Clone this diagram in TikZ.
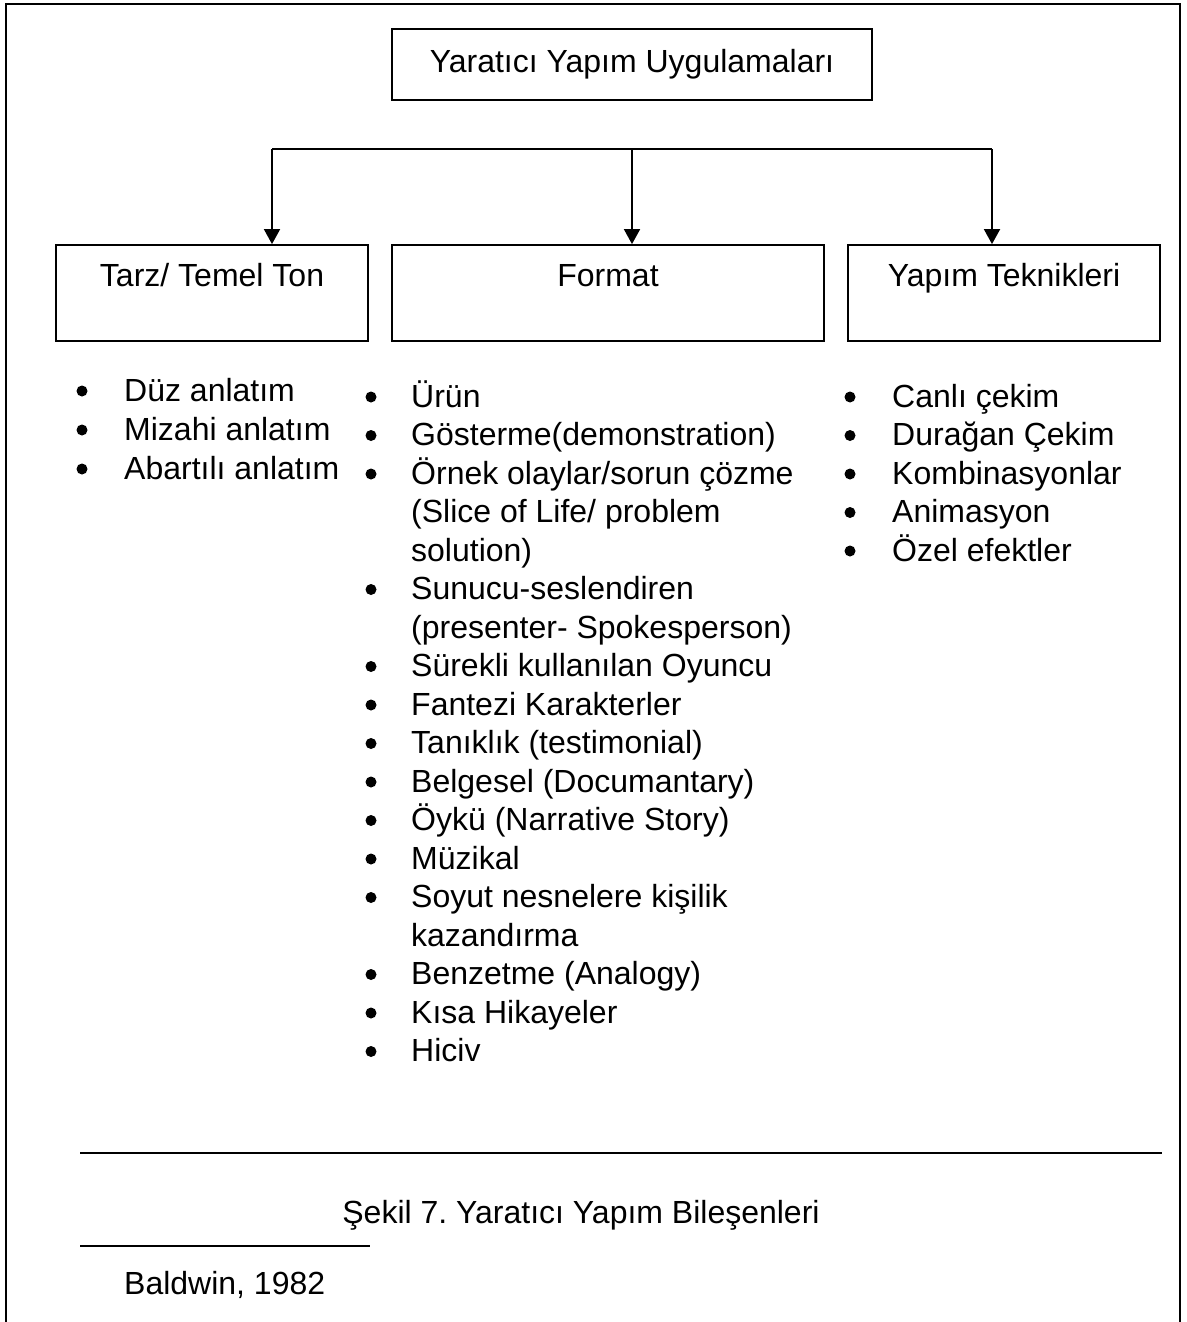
\documentclass[tikz,border=0pt]{standalone}
\usepackage{fontspec}
\setmainfont{Liberation Sans}
\usetikzlibrary{arrows.meta}
\frenchspacing
\begin{document}
\begin{tikzpicture}[x=1pt,y=-1pt,
  every node/.style={font=\fontsize{32}{38.5}\selectfont, inner sep=0pt},
  box/.style={draw, line width=1.8pt, rectangle, inner sep=0pt},
  lbl/.style={anchor=base},
  item/.style={anchor=base west},
  conn/.style={line width=1.8pt},
  arr/.style={conn, -{Triangle[width=16pt,length=15pt]}},
  rule/.style={line width=1.8pt}
]
\useasboundingbox (0,0) rectangle (1186,1322);
\fill[white] (0,0) rectangle (1186,1322);

% outer frame, open at the bottom
\draw[rule] (6,1322) -- (6,4) -- (1180,4) -- (1180,1322);

% heading box
\node[box, minimum width=480, minimum height=71] (top) at (632,64.5) {};
\node[lbl] (toplbl) at (632,72) {Yaratıcı Yapım Uygulamaları};

% three category boxes
\node[box, minimum width=312, minimum height=96] (tarz) at (212,293) {};
\node[box, minimum width=432, minimum height=96] (format) at (608,293) {};
\node[box, minimum width=312, minimum height=96] (yapim) at (1004,293) {};
\node[lbl] (tarzlbl) at (212,286) {Tarz/ Temel Ton};
\node[lbl] (formatlbl) at (608,286) {Format};
\node[lbl] (yapimlbl) at (1004,286) {Yapım Teknikleri};

% distribution bus with arrows
\coordinate (busL) at (272,149);
\coordinate (busM) at (632,149);
\coordinate (busR) at (992,149);
\draw[conn] (busL) -- (busR);
\draw[arr] (busL) -- (busL |- tarz.north);
\draw[arr] (busM) -- (busM |- format.north);
\draw[arr] (busR) -- (busR |- yapim.north);

% bullet lists: index / has bullet / text
\foreach \i/\b/\t in {0/1/{Düz anlatım},1/1/{Mizahi anlatım},2/1/{Abartılı anlatım}}{
  \node[item] (t\i) at (124,{401+39*\i}) {\t};
  \ifnum\b=1 \fill (82,{391+39*\i}) circle (5.5); \fi
}
\foreach \i/\b/\t in {
  0/1/{Ürün},
  1/1/{Gösterme(demonstration)},
  2/1/{Örnek olaylar/sorun çözme},
  3/0/{(Slice of Life/ problem},
  4/0/{solution)},
  5/1/{Sunucu-seslendiren},
  6/0/{(presenter- Spokesperson)},
  7/1/{Sürekli kullanılan Oyuncu},
  8/1/{Fantezi Karakterler},
  9/1/{Tanıklık (testimonial)},
  10/1/{Belgesel (Documantary)},
  11/1/{Öykü (Narrative Story)},
  12/1/{Müzikal},
  13/1/{Soyut nesnelere kişilik},
  14/0/{kazandırma},
  15/1/{Benzetme (Analogy)},
  16/1/{Kısa Hikayeler},
  17/1/{Hiciv}}{
  \node[item] (f\i) at (411,{407+38.5*\i}) {\t};
  \ifnum\b=1 \fill (371,{397+38.5*\i}) circle (5.5); \fi
}
\foreach \i/\t in {0/{Canlı çekim},1/{Durağan Çekim},2/{Kombinasyonlar},3/{Animasyon},4/{Özel efektler}}{
  \node[item] (y\i) at (892,{407+38.5*\i}) {\t};
  \fill (850,{397+38.5*\i}) circle (5.5);
}

% caption block
\coordinate (sepL) at (80,1153);
\coordinate (sepR) at (1162,1153);
\draw[rule] (sepL) -- (sepR);
\node[lbl] (caption) at (581,1223) {Şekil 7. Yaratıcı Yapım Bileşenleri};
\coordinate (srcL) at (80,1246);
\coordinate (srcR) at (370,1246);
\draw[rule] (srcL) -- (srcR);
\node[item] (source) at (124,1294) {Baldwin, 1982};
\end{tikzpicture}
\end{document}
